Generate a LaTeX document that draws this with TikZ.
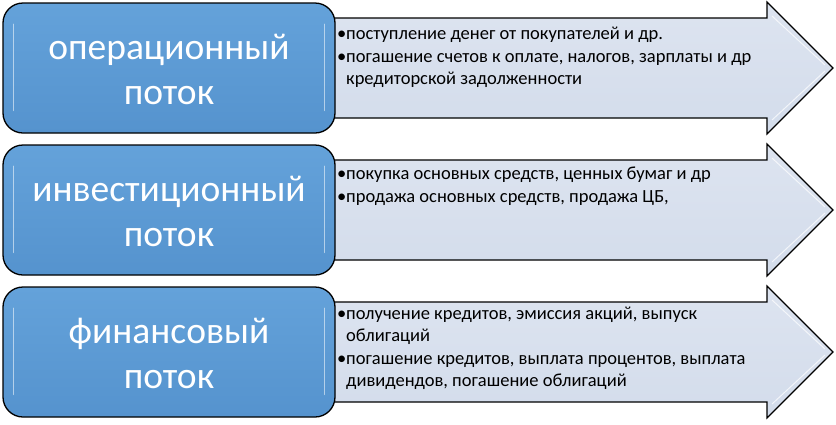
\documentclass[tikz,border=0pt]{standalone}
\usepackage{fontspec}
\setmainfont{Carlito}
\usetikzlibrary{calc}
\definecolor{boxblue}{HTML}{5B9BD5}
\definecolor{boxtop}{HTML}{64A2DA}
\definecolor{boxbot}{HTML}{5593CE}
\definecolor{arrowfill}{HTML}{D3DCEB}
\definecolor{arrowlight}{HTML}{DDE4F0}
\tikzset{
  x=1pt, y=-1pt,
  flowbox/.style={draw=black, line width=1.3pt, rounded corners=20pt, top color=boxtop, bottom color=boxbot},
  flowarrow/.style={draw=black, line width=1.1pt, top color=arrowlight, bottom color=arrowfill, line join=miter},
  boxtext/.style={text=white, font=\fontsize{37.5}{45}\selectfont, align=center, inner sep=0pt},
  itemtext/.style={text=black, font=\fontsize{18.5}{22}\selectfont, align=left, anchor=north west, inner sep=0pt},
  gloss/.style={white, opacity=0.55, line width=1.6pt, line cap=round},
}
\newcommand{\itm}[1]{\makebox[9pt][l]{\textbullet}#1}
\newcommand{\cont}[1]{\hspace*{9pt}#1}
\begin{document}
\begin{tikzpicture}
\useasboundingbox (0,0) rectangle (836,424);
% rows
\foreach \c/\nm in {68/one,210/two,352/three}{
  \draw[flowarrow] (300,\c-50) -- (767,\c-50) -- (767,\c-66) -- (833,\c) -- (767,\c+66) -- (767,\c+50) -- (300,\c+50) -- cycle;
  \draw[white, opacity=0.7, line width=1pt] (772,\c-52) -- (825,\c-3);
  \draw[white, opacity=0.7, line width=1pt] (772,\c+52) -- (825,\c+3);
  \node[flowbox, minimum width=332pt, minimum height=130pt] (box\nm) at (169,\c) {};
  \draw[gloss] (box\nm.north west) ++(11,22) -- ++(0,86);
  \draw[gloss] (box\nm.north east) ++(-11,22) -- ++(0,86);
}
\node[boxtext] (t1) at (169,69) {операционный\\поток};
\node[boxtext] (t2) at (169,211) {инвестиционный\\поток};
\node[boxtext] (t3) at (169,353) {финансовый\\поток};

\node[itemtext] (i1) at (337,26.5) {\itm{поступление денег от покупателей и др.}\\[1pt]
\itm{погашение счетов к оплате, налогов, зарплаты и др}\\
\cont{кредиторской задолженности}};
\node[itemtext] (i2) at (337,166.5) {\itm{покупка основных средств, ценных бумаг и др}\\[1pt]
\itm{продажа основных средств, продажа ЦБ,}};
\node[itemtext] (i3) at (337,306.5) {\itm{получение кредитов, эмиссия акций, выпуск}\\
\cont{облигаций}\\[1pt]
\itm{погашение кредитов, выплата процентов, выплата}\\
\cont{дивидендов, погашение облигаций}};
\end{tikzpicture}
\end{document}
